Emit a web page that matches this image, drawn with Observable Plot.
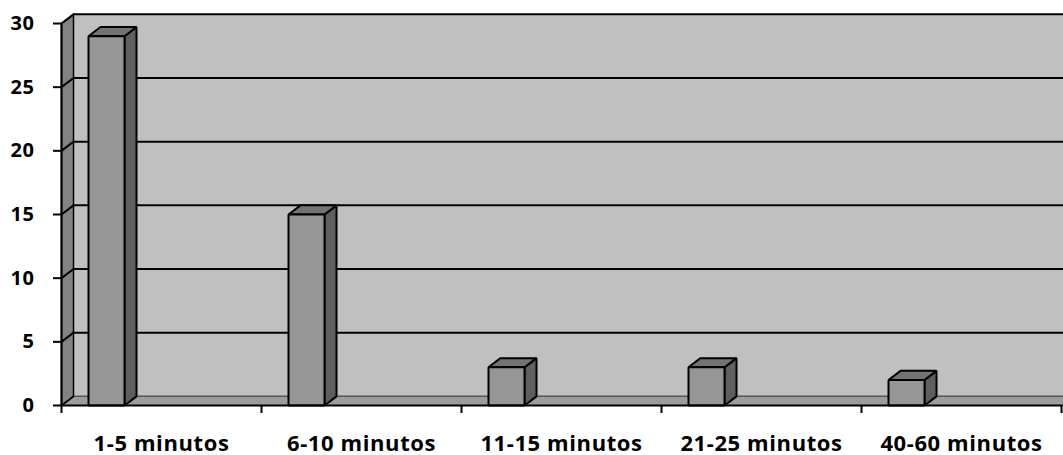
<!DOCTYPE html>
<html><head><meta charset="utf-8">
<script src="https://cdn.jsdelivr.net/npm/d3@7"></script>
<script src="https://cdn.jsdelivr.net/npm/@observablehq/plot@0.6"></script>
<style>body{margin:0;background:#fff}</style>
</head><body><div id="chart"></div>
<script>
const categories = ["1-5 minutos","6-10 minutos","11-15 minutos","21-25 minutos","40-60 minutos"];
const counts = [29, 15, 3, 3, 2];
const yTicks = [0, 5, 10, 15, 20, 25, 30];

// 3D styling constants (in data units)
const DX = 0.06, DY = 0.72, BAR_OFF = 0.135, BAR_W = 0.18, X_END = 5.01;
const n = categories.length, yMax = 30;

function poly(id, pts) { return pts.map(([x, y]) => ({id, x, y})); }

const backWall = poly("back", [[DX, DY], [X_END, DY], [X_END, yMax + DY], [DX, yMax + DY]]);
const floor = poly("floor", [[0, 0], [X_END, 0], [X_END, DY], [DX, DY]]);
const sideWall = poly("side", [[0, 0], [0, yMax], [DX, yMax + DY], [DX, DY]]);

const backGrid = yTicks.filter(v => v > 0).map(v => ({v: v + DY}));
const sideGrid = yTicks.filter(v => v > 0).flatMap(v => poly("g" + v, [[0, v], [DX, v + DY]]));

const fronts = [], sides = [], tops = [];
categories.forEach((c, i) => {
  const v = counts[i], xl = i + BAR_OFF, xr = xl + BAR_W;
  fronts.push(...poly("f" + i, [[xl, 0], [xr, 0], [xr, v], [xl, v]]));
  sides.push(...poly("s" + i, [[xr, 0], [xr + DX, DY], [xr + DX, v + DY], [xr, v]]));
  tops.push(...poly("t" + i, [[xl, v], [xr, v], [xr + DX, v + DY], [xl + DX, v + DY]]));
});

const shape = (data, fill, extra = {}) => Plot.line(data, {x: "x", y: "y", z: "id", curve: "linear-closed",
  fill, stroke: "#000", strokeWidth: 2, strokeLinejoin: "miter", ...extra});

const chart = Plot.plot({
  width: 1063, height: 455,
  marginLeft: 61, marginRight: 2, marginTop: 23, marginBottom: 50,
  style: {fontFamily: "'Open Sans', sans-serif", fontWeight: "bold", fontSize: "20px", color: "#000", background: "#fff"},
  x: {type: "linear", domain: [0, n], axis: null, label: null},
  y: {domain: [0, yMax], axis: null, label: null},
  marks: [
    shape(backWall, "#c0c0c0", {strokeWidth: 0}),
    Plot.ruleY(backGrid, {y: "v", x1: DX, x2: X_END, stroke: "#000", strokeWidth: 2}),
    shape(floor, "#9c9c9c", {strokeWidth: 0}),
    Plot.ruleY([DY], {x1: DX, x2: X_END, stroke: "#555", strokeWidth: 1.5}),
    shape(sideWall, "#838383", {strokeWidth: 1.5}),
    Plot.line(sideGrid, {x: "x", y: "y", z: "id", stroke: "#000", strokeWidth: 2}),
    Plot.line(poly("fl", [[0, 0], [DX, DY]]), {x: "x", y: "y", stroke: "#000", strokeWidth: 1.5}),
    shape(sides, "#5f5f5f"),
    shape(tops, "#737373"),
    shape(fronts, "#969696"),
    Plot.ruleY([0], {x1: 0, x2: X_END, stroke: "#000", strokeWidth: 2}),
    Plot.ruleX([0], {y1: 0, y2: yMax, stroke: "#000", strokeWidth: 2}),
    Plot.axisY(yTicks, {tickSize: 8, tickPadding: 19, strokeWidth: 2, fontSize: 20, label: null}),
    Plot.axisX(d3.range(n + 1), {tickSize: 8, tickFormat: () => "", strokeWidth: 2, label: null}),
    Plot.axisX(d3.range(n).map(i => i + 0.5), {tickSize: 0, tickPadding: 30, fontSize: 22, label: null,
      tickFormat: d => categories[Math.floor(d)]})
  ]
});
chart.querySelectorAll("text").forEach(t => t.style.letterSpacing = "0.6px");
document.getElementById("chart").append(chart);
</script>
</body></html>
